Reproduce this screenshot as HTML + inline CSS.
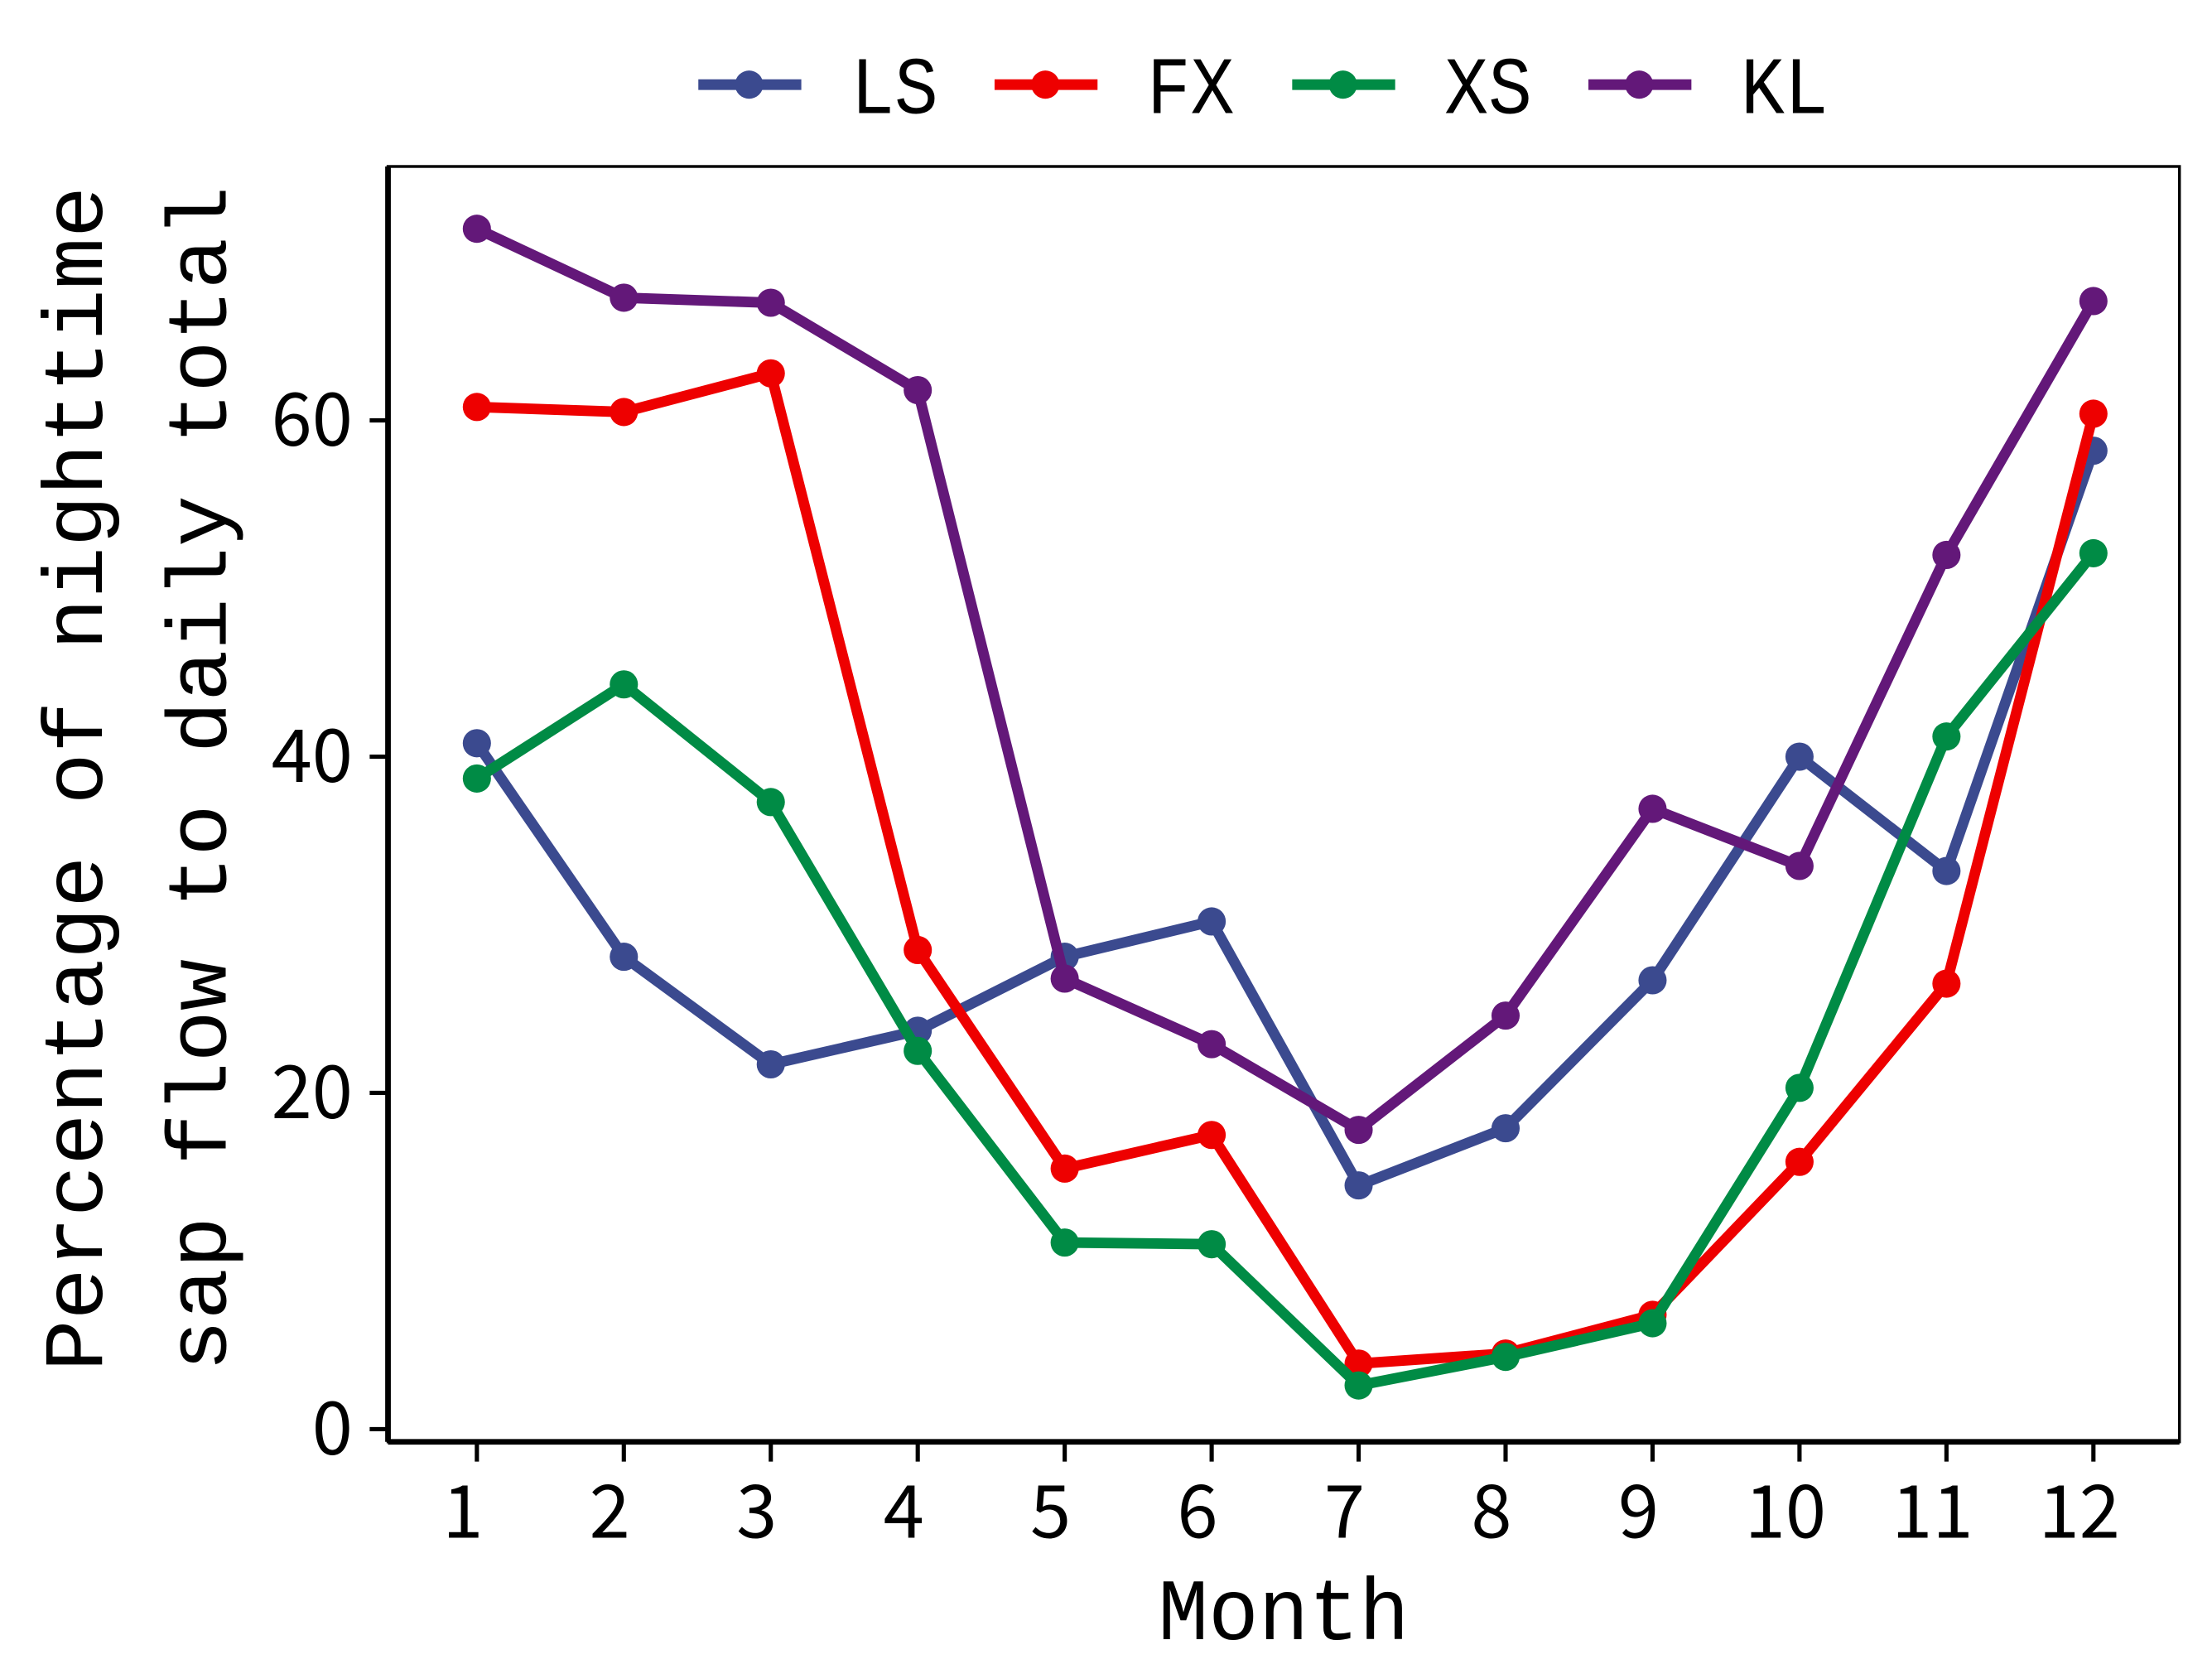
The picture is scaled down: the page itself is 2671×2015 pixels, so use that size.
<!DOCTYPE html>
<html><head><meta charset="utf-8"><style>
html,body{margin:0;padding:0;background:#fff;}
svg{display:block;}
text{font-family:"Liberation Mono","Noto Sans CJK SC",monospace;fill:#000;}
.tick{font-family:"Noto Sans CJK SC","Liberation Sans",sans-serif;}
</style></head><body>
<svg id="chart" width="2671" height="2015" viewBox="0 0 1568 1183" xmlns="http://www.w3.org/2000/svg">
<rect width="1568" height="1183" fill="#fff"/>
<g id="plot"></g>
</svg>
<script>
const months = [1,2,3,4,5,6,7,8,9,10,11,12];
const seriesNames = ["LS","FX","XS","KL"];
const LS = [40.8,28.1,21.7,23.7,28.1,30.2,14.5,17.9,26.7,40.0,33.2,58.2];
const FX = [60.8,60.5,62.8,28.5,15.5,17.5,3.9,4.5,6.8,15.9,26.5,60.4];
const XS = [38.7,44.3,37.3,22.5,11.1,11.0,2.6,4.3,6.3,20.3,41.2,52.1];
const KL = [71.4,67.3,67.0,61.8,26.8,22.9,17.8,24.6,36.9,33.5,52.0,67.1];
const yTicks = [0,20,40,60];
const colors = {LS:"#3B4A8F",FX:"#EE0000",XS:"#008B45",KL:"#631879"};
const data = {LS, FX, XS, KL};

const NS="http://www.w3.org/2000/svg";
const g=document.getElementById('plot');
const X0=275, X1=1545, Y0=118, Y1=1022;
function xs(m){return 338+(m-1)*(1484-338)/11;}
function ys(v){return 1013-v*(1013-298)/60;}
function mk(tag,attrs,parent){const e=document.createElementNS(NS,tag);for(const k in attrs)e.setAttribute(k,attrs[k]);(parent||g).appendChild(e);return e;}

const frame=mk('rect',{x:X0,y:Y0,width:X1-X0,height:Y1-Y0,fill:'none',stroke:'#000','stroke-width':2});


mk('line',{x1:X0,y1:Y0,x2:X0,y2:Y1,stroke:'#000','stroke-width':4});
mk('line',{x1:X0,y1:Y1,x2:X1,y2:Y1,stroke:'#000','stroke-width':4});

yTicks.forEach(v=>{
  mk('line',{x1:262,x2:X0,y1:ys(v),y2:ys(v),stroke:'#000','stroke-width':3});
  const t=mk('text',{x:250,y:ys(v)+18,'text-anchor':'end','font-size':52,'class':'tick'});
  t.textContent=v;
  
  
});
months.forEach(m=>{
  mk('line',{x1:xs(m),x2:xs(m),y1:Y1,y2:1036,stroke:'#000','stroke-width':3});
  const t=mk('text',{x:xs(m)-10,y:1090,'text-anchor':'middle','font-size':52,'class':'tick'});
  t.textContent=m;
  
  
});
const xt=mk('text',{x:910,y:1162,'text-anchor':'middle','font-size':62,textLength:178,lengthAdjust:'spacingAndGlyphs'});
xt.textContent='Month';


const yt1=mk('text',{x:0,y:0,'text-anchor':'middle','font-size':60,transform:'translate(72,552) rotate(-90)',textLength:840,lengthAdjust:'spacingAndGlyphs'});
yt1.textContent='Percentage of nighttime';


const yt2=mk('text',{x:0,y:0,'text-anchor':'middle','font-size':60,transform:'translate(160,552) rotate(-90)',textLength:840,lengthAdjust:'spacingAndGlyphs'});
yt2.textContent='sap flow to daily total';



seriesNames.forEach(name=>{
  const vals=data[name], c=colors[name];
  const pts=vals.map((v,i)=>xs(months[i])+','+ys(v)).join(' ');
  const pl=mk('polyline',{points:pts,fill:'none',stroke:c,'stroke-width':7.5,'stroke-linejoin':'round'});
  
  
  vals.forEach((v,i)=>{
    const p=mk('circle',{cx:xs(months[i]),cy:ys(v),r:10,fill:c});
    
    
  });
});

const legX=[495,705,916,1126];
seriesNames.forEach((name,i)=>{
  const lg=mk('g',{});
  
  
  const x=legX[i], c=colors[name];
  mk('line',{x1:x,x2:x+73,y1:60,y2:60,stroke:c,'stroke-width':7.5},lg);
  mk('circle',{cx:x+36,cy:60,r:10,fill:c},lg);
  const t=mk('text',{x:x+108,y:80,'font-size':58,textLength:62,lengthAdjust:'spacingAndGlyphs'},lg);
  t.textContent=name;
});
</script>
</body></html>
